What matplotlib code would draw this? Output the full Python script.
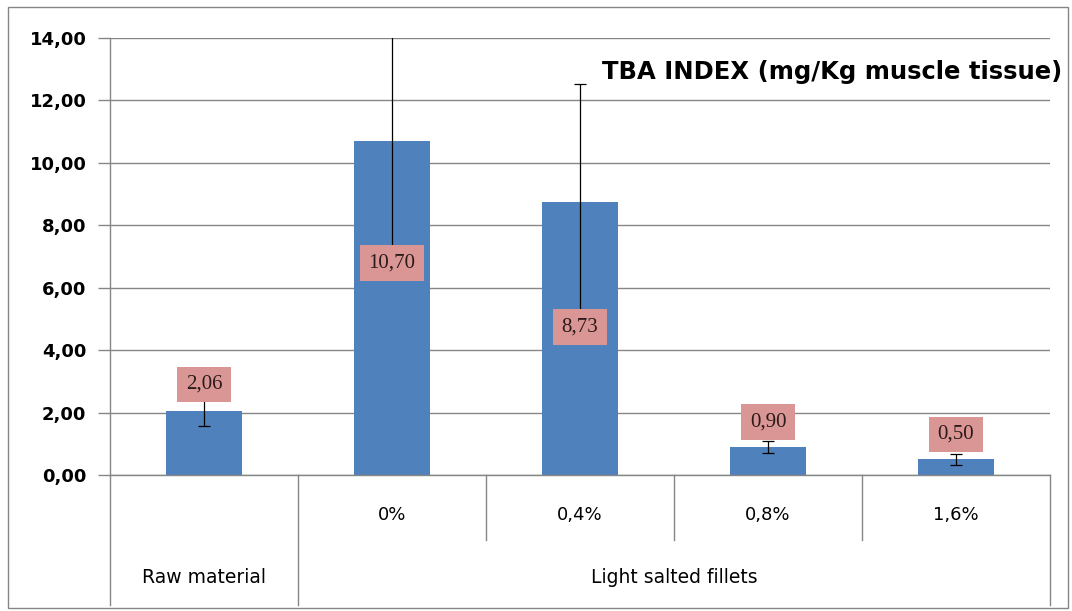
import matplotlib.pyplot as plt
from matplotlib.patches import Rectangle
from matplotlib.transforms import blended_transform_factory

# TBA index per sample
sub_labels = ["", "0%", "0,4%", "0,8%", "1,6%"]
groups = ["Raw material", "Light salted fillets"]
values = [2.06, 10.70, 8.73, 0.90, 0.50]
errors = [0.50, 3.60, 3.80, 0.20, 0.17]
value_text = ["2,06", "10,70", "8,73", "0,90", "0,50"]
label_at = [2.9, 6.8, 4.75, 1.7, 1.3]  # where the value boxes sit (data units)

bar_col = "#4f81bd"
box_col = "#d99694"
grid_col = "#868686"

fig = plt.figure(figsize=(10.72, 6.11), dpi=100)
ax = fig.add_axes([0.1026, 0.2226, 0.8769, 0.7152])

x = list(range(len(values)))
ax.bar(x, values, width=0.4, color=bar_col, zorder=2)
ax.errorbar(x, values, yerr=errors, fmt="none", ecolor="black", elinewidth=0.9,
            capsize=4.5, capthick=0.9, zorder=3)

for xi, lab, ly in zip(x, value_text, label_at):
    ax.text(xi, ly, lab, ha="center", va="center", fontsize=15,
            family="Liberation Serif", color="#2a1a1a", zorder=4,
            bbox=dict(boxstyle="square,pad=0.4", fc=box_col, ec="none"))

ax.set_xlim(-0.5, 4.5)
ax.set_ylim(0, 14)
ax.set_yticks([0, 2, 4, 6, 8, 10, 12, 14])
ax.set_yticklabels([f"{v:.2f}".replace(".", ",") for v in range(0, 15, 2)],
                   fontsize=13, fontweight="bold")
ax.yaxis.grid(True, color=grid_col, lw=1, zorder=0)
ax.tick_params(axis="y", length=9, color=grid_col, width=1, pad=8)

ax.set_xticks(x)
ax.set_xticklabels(sub_labels, fontsize=13)
ax.tick_params(axis="x", length=0, pad=22)

for s in ["top", "right"]:
    ax.spines[s].set_visible(False)
for s in ["left", "bottom"]:
    ax.spines[s].set_color(grid_col)
    ax.spines[s].set_linewidth(1)

# multi-level category axis dividers
tr = blended_transform_factory(ax.transData, ax.transAxes)
for xd, ybot in [(-0.5, -0.297), (0.5, -0.297), (1.5, -0.149),
                 (2.5, -0.149), (3.5, -0.149), (4.5, -0.297)]:
    ax.plot([xd, xd], [0, ybot], transform=tr, color=grid_col, lw=1, clip_on=False)

ax.text(0, -0.235, groups[0], transform=tr, ha="center", va="center", fontsize=13.5)
ax.text(2.5, -0.235, groups[1], transform=tr, ha="center", va="center", fontsize=13.5)

ax.text(0.9907, 0.882, "TBA INDEX (mg/Kg muscle tissue)", transform=fig.transFigure,
        ha="right", va="center", fontsize=17.5, fontweight="bold", zorder=5)

fig.patches.append(Rectangle((0.007, 0.005), 0.989, 0.983, transform=fig.transFigure,
                             fill=False, ec=grid_col, lw=1))

fig.savefig("out.png", dpi=100)
